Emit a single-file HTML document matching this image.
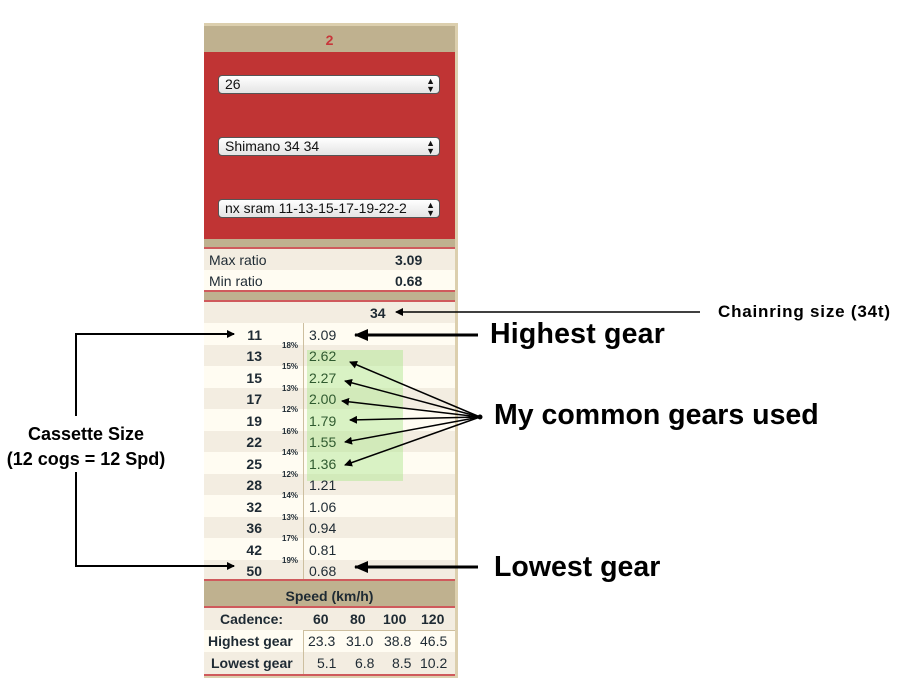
<!DOCTYPE html>
<html><head><meta charset="utf-8"><style>
body{margin:0;width:909px;height:684px;background:#fff;position:relative;overflow:hidden;font-family:"Liberation Sans",sans-serif;}
.a{position:absolute;}
.sel{position:absolute;left:218px;width:222px;border:1px solid #555;border-radius:4px;background:linear-gradient(#fff,#e4e4e4);font-size:14px;line-height:17px;padding-left:6px;box-sizing:border-box;height:19px;color:#111;}
.sel span{position:absolute;right:4px;top:0;font-size:9px;line-height:8px;padding-top:1px}
.row{position:absolute;left:204px;width:251px;}
.cog{position:absolute;left:204px;width:58px;text-align:right;font-size:14px;font-weight:bold;color:#1e2a33;}
.pct{position:absolute;left:282px;font-size:8px;font-weight:bold;color:#1e2a33;}
.rat{position:absolute;left:309px;font-size:14px;color:#1e2a33;}
.red{position:absolute;left:204px;width:251px;height:2px;background:#cf5a5c;}
.t{color:#1e2a33;font-size:14px;position:absolute}
</style></head><body>
<div class="a" style="left:204px;top:23px;width:254px;height:655px;background:#dccfae"></div>
<div class="a" style="left:204px;top:26px;width:251px;height:26px;background:#bfb18f;text-align:center;color:#c8363a;font-weight:bold;font-size:14px;line-height:28px">2</div>
<div class="a" style="left:204px;top:52px;width:251px;height:187px;background:#c03434"></div>
<div class="sel" style="top:75px">26<span>▲<br>▼</span></div>
<div class="sel" style="top:137px">Shimano 34 34<span>▲<br>▼</span></div>
<div class="sel" style="top:199px">nx sram 11-13-15-17-19-22-2<span>▲<br>▼</span></div>
<div class="a" style="left:204px;top:239px;width:251px;height:62px;background:#bfb18f"></div>
<div class="red" style="top:247px"></div>
<div class="row" style="top:249px;height:21px;background:#f3ede1"></div>
<div class="row" style="top:270px;height:21px;background:#fffcf2"></div>
<div class="red" style="top:290px"></div>
<div class="red" style="top:300px"></div>
<div class="t" style="left:209px;top:252px">Max ratio</div><div class="t" style="left:395px;top:252px;font-weight:bold">3.09</div>
<div class="t" style="left:209px;top:273px">Min ratio</div><div class="t" style="left:395px;top:273px;font-weight:bold">0.68</div>
<div class="row" style="top:302px;height:21px;background:#f3ede1"></div>
<div class="t" style="left:370px;top:305px;font-weight:bold">34</div>
<div class="row" style="top:323px;height:21.5px;background:#fffcf2"></div>
<div class="row" style="top:344.5px;height:21.5px;background:#f3ede1"></div>
<div class="row" style="top:366px;height:21.5px;background:#fffcf2"></div>
<div class="row" style="top:387.5px;height:21.5px;background:#f3ede1"></div>
<div class="row" style="top:409px;height:21.5px;background:#fffcf2"></div>
<div class="row" style="top:430.5px;height:21.5px;background:#f3ede1"></div>
<div class="row" style="top:452px;height:21.5px;background:#fffcf2"></div>
<div class="row" style="top:473.5px;height:21.5px;background:#f3ede1"></div>
<div class="row" style="top:495px;height:21.5px;background:#fffcf2"></div>
<div class="row" style="top:516.5px;height:21.5px;background:#f3ede1"></div>
<div class="row" style="top:538px;height:21.5px;background:#fffcf2"></div>
<div class="row" style="top:559.5px;height:21.5px;background:#f3ede1"></div>
<div class="a" style="left:307px;top:350px;width:96px;height:131px;background:rgba(170,230,140,0.45)"></div>
<div class="a" style="left:303px;top:323px;width:1px;height:258px;background:#cdbf9f"></div>
<div class="cog" style="top:327px">11</div><div class="cog" style="top:348px">13</div><div class="cog" style="top:370px">15</div><div class="cog" style="top:391px">17</div><div class="cog" style="top:413px">19</div><div class="cog" style="top:434px">22</div><div class="cog" style="top:456px">25</div><div class="cog" style="top:477px">28</div><div class="cog" style="top:499px">32</div><div class="cog" style="top:520px">36</div><div class="cog" style="top:542px">42</div><div class="cog" style="top:563px">50</div>
<div class="pct" style="top:341px">18%</div><div class="pct" style="top:362px">15%</div><div class="pct" style="top:384px">13%</div><div class="pct" style="top:405px">12%</div><div class="pct" style="top:427px">16%</div><div class="pct" style="top:448px">14%</div><div class="pct" style="top:470px">12%</div><div class="pct" style="top:491px">14%</div><div class="pct" style="top:513px">13%</div><div class="pct" style="top:534px">17%</div><div class="pct" style="top:556px">19%</div>
<div class="rat" style="top:327px">3.09</div><div class="rat" style="top:348px;color:#2f5a2f">2.62</div><div class="rat" style="top:370px;color:#2f5a2f">2.27</div><div class="rat" style="top:391px;color:#2f5a2f">2.00</div><div class="rat" style="top:413px;color:#2f5a2f">1.79</div><div class="rat" style="top:434px;color:#2f5a2f">1.55</div><div class="rat" style="top:456px;color:#2f5a2f">1.36</div><div class="rat" style="top:477px">1.21</div><div class="rat" style="top:499px">1.06</div><div class="rat" style="top:520px">0.94</div><div class="rat" style="top:542px">0.81</div><div class="rat" style="top:563px">0.68</div>
<div class="red" style="top:579px"></div>
<div class="a" style="left:204px;top:581px;width:251px;height:25px;background:#bfb18f;text-align:center;font-weight:bold;font-size:14px;line-height:30px;color:#1e2a33">Speed (km/h)</div>
<div class="red" style="top:606px"></div>
<div class="row" style="top:608px;height:22px;background:#f3ede1"></div>
<div class="row" style="top:630px;height:22px;background:#fffcf2"></div>
<div class="row" style="top:652px;height:22px;background:#f3ede1"></div>
<div class="a" style="left:303px;top:630px;width:1px;height:44px;background:#cdbf9f"></div>
<div class="a" style="left:303px;top:630px;width:152px;height:1px;background:#cdbf9f"></div>
<div class="red" style="top:674px"></div>
<div class="t" style="left:220px;top:611px;font-weight:bold">Cadence:</div>
<div class="t" style="left:313px;top:611px;font-weight:bold">60</div><div class="t" style="left:350px;top:611px;font-weight:bold">80</div><div class="t" style="left:383px;top:611px;font-weight:bold">100</div><div class="t" style="left:421px;top:611px;font-weight:bold">120</div>
<div class="t" style="left:208px;top:633px;font-weight:bold">Highest gear</div>
<div class="t" style="left:308px;top:633px">23.3</div><div class="t" style="left:346px;top:633px">31.0</div><div class="t" style="left:384px;top:633px">38.8</div><div class="t" style="left:420px;top:633px">46.5</div>
<div class="t" style="left:211px;top:655px;font-weight:bold">Lowest gear</div>
<div class="t" style="left:317px;top:655px">5.1</div><div class="t" style="left:355px;top:655px">6.8</div><div class="t" style="left:392px;top:655px">8.5</div><div class="t" style="left:420px;top:655px">10.2</div>

<svg class="a" style="left:0;top:0" width="909" height="684">
<defs><marker id="m" markerWidth="8" markerHeight="8" refX="7" refY="4" orient="auto" markerUnits="userSpaceOnUse"><path d="M0,0L8,4L0,8z" fill="#000"/></marker>
<marker id="M" markerWidth="14" markerHeight="12" refX="13" refY="6" orient="auto" markerUnits="userSpaceOnUse"><path d="M0,0L14,6L0,12z" fill="#000"/></marker></defs>
<g stroke="#000" fill="none">
<path d="M76,416V334H234" stroke-width="2" marker-end="url(#m)"/>
<path d="M76,472V566H234" stroke-width="2" marker-end="url(#m)"/>
<path d="M700,312H396" stroke-width="1.5" marker-end="url(#m)"/>
<path d="M478,335H355" stroke-width="3" marker-end="url(#M)"/>
<path d="M478,567H355" stroke-width="3" marker-end="url(#M)"/>
<g stroke-width="1.5">
<path d="M480,417L350,362" marker-end="url(#m)"/>
<path d="M480,417L345,381" marker-end="url(#m)"/>
<path d="M480,417L342,401" marker-end="url(#m)"/>
<path d="M480,417L350,420" marker-end="url(#m)"/>
<path d="M480,417L345,442" marker-end="url(#m)"/>
<path d="M480,417L345,465" marker-end="url(#m)"/>
</g></g>
<circle cx="480" cy="417" r="2.5" fill="#000"/>
</svg>
<div class="a" style="left:718px;top:302px;font-size:17px;font-weight:bold;letter-spacing:0.8px">Chainring size (34t)</div>
<div class="a" style="left:490px;top:318px;font-size:28.5px;font-weight:bold;letter-spacing:0.2px">Highest gear</div>
<div class="a" style="left:494px;top:399px;font-size:28.5px;font-weight:bold">My common gears used</div>
<div class="a" style="left:494px;top:551px;font-size:28.5px;font-weight:bold">Lowest gear</div>
<div class="a" style="left:0px;top:422px;width:172px;text-align:center;font-size:18px;font-weight:bold;line-height:25px">Cassette Size<br>(12 cogs = 12 Spd)</div>
</body></html>
